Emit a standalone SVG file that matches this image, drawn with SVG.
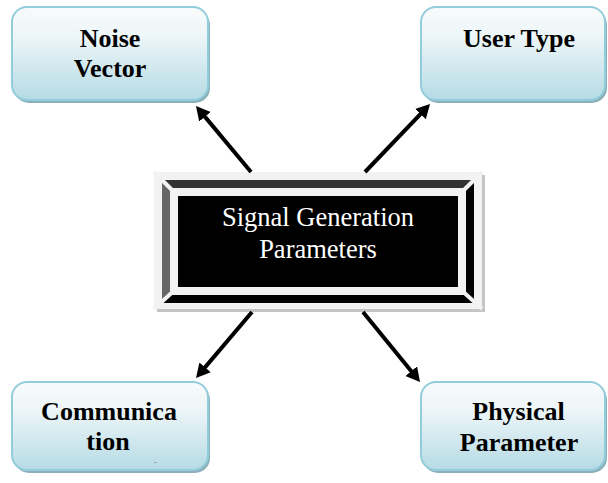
<svg xmlns="http://www.w3.org/2000/svg" width="608" height="483" viewBox="0 0 608 483">
  <defs>
    <linearGradient id="boxFill" x1="0" y1="0" x2="0" y2="1">
      <stop offset="0" stop-color="#f8fbfc"/>
      <stop offset="0.3" stop-color="#eef6f8"/>
      <stop offset="1" stop-color="#b5dbe5"/>
    </linearGradient>
    <marker id="arrowHead" markerUnits="userSpaceOnUse" markerWidth="16" markerHeight="16" refX="6" refY="7.5" orient="auto">
      <path d="M0,0 L14,7.5 L0,15 z" fill="#000"/>
    </marker>
    <style>
      .shadow { fill: #8cb0ba; }
      .box { fill: url(#boxFill); stroke: #93cddc; stroke-width: 2; }
      .label { font-family: "Liberation Serif", "Times New Roman", serif; font-weight: bold; font-size: 26px; fill: #000; text-anchor: middle; }
      .title { font-family: "Liberation Serif", "Times New Roman", serif; font-size: 26.5px; fill: #fff; text-anchor: middle; }
      .conn { stroke: #000; stroke-width: 4; fill: none; marker-end: url(#arrowHead); }
      .gap { stroke: #f2f2f2; stroke-width: 4; }
    </style>
  </defs>

  <rect width="608" height="483" fill="#fff"/>

  <!-- central bevelled panel -->
  <g id="signal-generation-parameters">
    <rect x="157" y="175" width="328" height="137" fill="#c4c4c4"/>
    <rect x="154" y="172" width="328" height="137" fill="#f2f2f2"/>
    <polygon points="162,180 474,180 466,188 170,188" fill="#333"/>
    <polygon points="162,180 170,188 170,295 162,303" fill="#666"/>
    <polygon points="474,180 474,303 466,295 466,188" fill="#000"/>
    <polygon points="162,303 474,303 466,295 170,295" fill="#000"/>
    <line class="gap" x1="154" y1="172" x2="178" y2="196"/>
    <line class="gap" x1="482" y1="172" x2="458" y2="196"/>
    <line class="gap" x1="154" y1="309" x2="178" y2="287"/>
    <line class="gap" x1="482" y1="309" x2="458" y2="287"/>
    <rect x="178" y="196" width="280" height="91" fill="#000"/>
    <text class="title" x="318" y="226">Signal Generation</text>
    <text class="title" x="318" y="258">Parameters</text>
  </g>

  <g id="noise-vector">
    <rect class="shadow" x="14" y="10" width="196" height="93" rx="15"/>
    <rect class="box" x="12" y="7" width="196" height="93" rx="15"/>
    <text class="label" x="110" y="47">Noise</text>
    <text class="label" x="110" y="77">Vector</text>
  </g>

  <g id="user-type">
    <rect class="shadow" x="423" y="10" width="184" height="93" rx="15"/>
    <rect class="box" x="421" y="7" width="184" height="93" rx="15"/>
    <text class="label" x="519" y="47">User Type</text>
  </g>

  <g id="communication">
    <rect class="shadow" x="14" y="385" width="196" height="88" rx="15"/>
    <rect class="box" x="12" y="382" width="196" height="88" rx="15"/>
    <text class="label" x="109" y="420">Communica</text>
    <text class="label" x="108" y="450">tion</text>
    <rect x="154" y="462" width="3" height="1" fill="#9aa"/>
  </g>

  <g id="physical-parameter">
    <rect class="shadow" x="423" y="385" width="184" height="88" rx="15"/>
    <rect class="box" x="421" y="382" width="184" height="88" rx="15"/>
    <text class="label" x="518.5" y="420">Physical</text>
    <text class="label" x="519" y="451">Parameter</text>
  </g>

  <g id="connectors">
    <line class="conn" x1="251" y1="172" x2="201.1" y2="112.1"/>
    <line class="conn" x1="365" y1="172" x2="424.5" y2="109.8"/>
    <line class="conn" x1="252" y1="312" x2="201.2" y2="371.9"/>
    <line class="conn" x1="363" y1="312" x2="415" y2="375.8"/>
  </g>
</svg>
